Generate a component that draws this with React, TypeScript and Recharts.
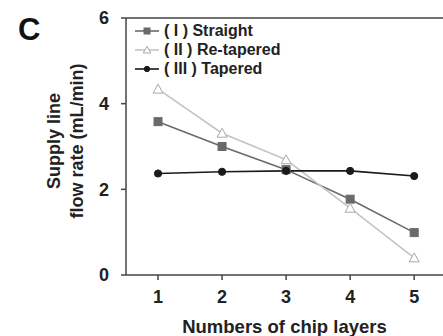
import { LineChart, Line, XAxis, YAxis, ReferenceLine } from 'recharts';

const layers = [1, 2, 3, 4, 5];
const straight = [3.58, 3.0, 2.46, 1.77, 0.99];
const retapered = [4.34, 3.31, 2.69, 1.56, 0.4];
const tapered = [2.37, 2.41, 2.43, 2.43, 2.31];
const yTicks = [0, 2, 4, 6];

const series = [
  { key: 'straight', name: '( I ) Straight', stroke: '#6a6a6a', fill: '#6a6a6a', shape: 'square' },
  { key: 'retapered', name: '( II ) Re-tapered', stroke: '#c4c4c4', fill: '#ffffff', shape: 'triangle' },
  { key: 'tapered', name: '( III ) Tapered', stroke: '#1a1a1a', fill: '#1a1a1a', shape: 'circle' },
];

const data = layers.map((x, i) => ({
  x,
  straight: straight[i],
  retapered: retapered[i],
  tapered: tapered[i],
}));

const font = 'Liberation Sans, Arial, sans-serif';

function Marker({ cx, cy, shape, stroke, fill, size = 1 }: any) {
  if (cx == null || cy == null) return null;
  if (shape === 'square') {
    const s = 4 * size;
    return <rect x={cx - s} y={cy - s} width={s * 2} height={s * 2} fill={fill} stroke={stroke} />;
  }
  if (shape === 'triangle') {
    const s = 5 * size;
    return (
      <polygon
        points={`${cx},${cy - s} ${cx - s},${cy + s * 0.8} ${cx + s},${cy + s * 0.8}`}
        fill="#fff"
        stroke="#a8a8a8"
        strokeWidth={1}
      />
    );
  }
  return <circle cx={cx} cy={cy} r={3.6 * size} fill={fill} stroke={stroke} />;
}

function LegendBox() {
  return (
    <div
      style={{
        position: 'absolute',
        left: 134,
        top: 21,
        fontFamily: font,
        fontWeight: 700,
        fontSize: 16,
        color: '#222',
      }}
    >
      {series.map((s) => (
        <div key={s.key} style={{ display: 'flex', alignItems: 'center', height: 19 }}>
          <svg width={26} height={12}>
            <line x1={1} y1={6} x2={25} y2={6} stroke={s.stroke} strokeWidth={1.6} />
            <Marker cx={13} cy={6} shape={s.shape} stroke={s.stroke} fill={s.fill} size={0.75} />
          </svg>
          <span style={{ marginLeft: 4 }}>{s.name}</span>
        </div>
      ))}
    </div>
  );
}

function YLabel() {
  const cy = 141;
  return (
    <g fontFamily={font} fontWeight={700} fontSize={18} fill="#222">
      <text x={54} y={cy} transform={`rotate(-90, 54, ${cy})`} textAnchor="middle" dominantBaseline="central">
        Supply line
      </text>
      <text x={77} y={cy} transform={`rotate(-90, 77, ${cy})`} textAnchor="middle" dominantBaseline="central">
        flow rate (mL/min)
      </text>
    </g>
  );
}

export default function App() {
  return (
    <div style={{ position: 'absolute', left: 0, top: 0, width: 443, height: 336, overflow: 'hidden', background: '#fff' }}>
      <div
        style={{
          position: 'absolute',
          left: 18,
          top: 14,
          fontFamily: font,
          fontWeight: 700,
          fontSize: 31,
          color: '#111',
          lineHeight: 1,
        }}
      >
        C
      </div>
      <LineChart width={443} height={336} data={data} margin={{ top: 18, right: 0, left: 0, bottom: 31 }}>
        <XAxis
          dataKey="x"
          type="number"
          domain={[0.5, 5.45]}
          ticks={layers}
          height={30}
          tickSize={5}
          tickMargin={10}
          stroke="#444"
          strokeWidth={1.5}
          tick={{ fill: '#222', fontSize: 18, fontWeight: 700, fontFamily: font }}
          label={{
            value: 'Numbers of chip layers',
            position: 'bottom',
            offset: 15,
            fill: '#222',
            fontSize: 18.5,
            fontWeight: 700,
            fontFamily: font,
          }}
        />
        <YAxis
          width={126}
          domain={[0, 6]}
          ticks={yTicks}
          tickSize={5}
          tickMargin={12}
          stroke="#444"
          strokeWidth={1.5}
          tick={{ fill: '#222', fontSize: 18, fontWeight: 700, fontFamily: font }}
          label={{ content: () => <YLabel /> }}
        />
        <ReferenceLine y={6} stroke="#444" strokeWidth={1.5} />
        {series.map((s) => (
          <Line
            key={s.key}
            dataKey={s.key}
            name={s.name}
            stroke={s.stroke}
            strokeWidth={1.6}
            isAnimationActive={false}
            dot={(p: any) => <Marker key={`${s.key}-${p.index}`} cx={p.cx} cy={p.cy} shape={s.shape} stroke={s.stroke} fill={s.fill} />}
          />
        ))}
      </LineChart>
      <LegendBox />
    </div>
  );
}
